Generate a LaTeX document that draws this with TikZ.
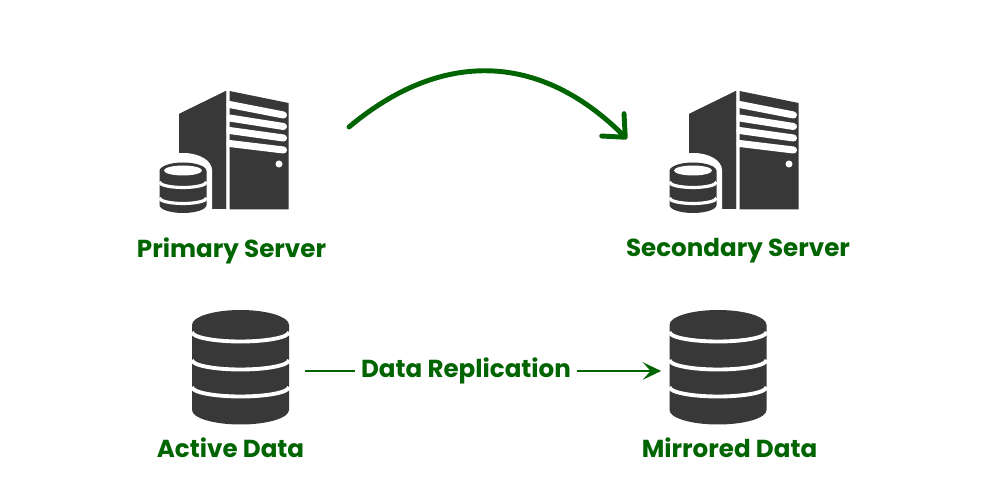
\documentclass[tikz,border=0pt]{standalone}
\usepackage{fontspec}
\setmainfont{Poppins}
\usepackage{tikz}
\usetikzlibrary{arrows.meta}
\definecolor{icongray}{HTML}{383838}
\definecolor{repgreen}{HTML}{006400}

\tikzset{
  lbl/.style={text=repgreen,font=\fontsize{14}{16}\selectfont\bfseries,inner sep=0pt},
  iconbox/.style={inner sep=0pt,minimum width=2.6cm,minimum height=2.4cm},
  dbbox/.style={inner sep=0pt,minimum width=1.94cm,minimum height=2.3cm},
  serverpic/.pic={
    \fill[icongray] (-46,36) -- (1,59) -- (1,-59) -- (-46,-59) -- cycle;
    \fill[icongray] (4.5,59) -- (63.5,47) -- (63.5,-59.5) -- (4.5,-59.5) -- cycle;
    \foreach \a/\b in {45.5/35,32/23.5,19.5/12,6.5/0}
      \draw[white,line width=4pt,line cap=round] (4.5,\a) -- (58.5,\b);
    \fill[icongray] (1,59) -- (1,-59) -- (-46,-59) -- (-46,36) -- cycle;
    \fill[white] (54,-14) circle (3.5);
    % small db in front of the tower
    \fill[white] (-70,-20) arc[start angle=180,end angle=0,x radius=28.5,y radius=17]
      -- (-13,-60) -- (-70,-60) -- cycle;
    \fill[icongray] (-65.5,-21) arc[start angle=180,end angle=0,x radius=23.5,y radius=8.5]
      -- (-18.5,-55) arc[start angle=0,end angle=-180,x radius=23.5,y radius=8] -- cycle;
    \fill[white] (-42,-20.5) ellipse[x radius=19,y radius=5];
    \foreach \a in {-32,-48}
      \draw[white,line width=1.8pt] (-65.5,\a) arc[start angle=180,end angle=360,x radius=23.5,y radius=5.5];
  },
  dbpic/.pic={
    \fill[icongray] (-48.5,46) arc[start angle=180,end angle=0,x radius=48.5,y radius=15]
      -- (48.5,-39) arc[start angle=0,end angle=-180,x radius=48.5,y radius=14.5] -- cycle;
    \foreach \a in {39,11,-16}
      \draw[white,line width=2.2pt] (-48.5,\a) arc[start angle=180,end angle=360,x radius=48.5,y radius=9.5];
  }
}

\begin{document}
\begin{tikzpicture}[x=0.02cm,y=0.02cm]
\useasboundingbox (0,0) rectangle (1000,500);

\node [iconbox] (primary) at(225,350){};
\node [iconbox] (secondary) at(735,350){};
\pic at (primary) {serverpic};
\pic at (secondary) {serverpic};

\node [lbl] (primarylbl) at(231.5,249.5){Primary Server};
\node [lbl] (secondarylbl) at(738,249.5){Secondary Server};

\node [dbbox] (active) at(240.5,129){};
\node [dbbox] (mirrored) at(718,129){};
\pic at (active) {dbpic};
\pic at (mirrored) {dbpic};

\node [lbl] (activelbl) at(230.5,52.5){Active Data};
\node [lbl] (mirroredlbl) at(729.5,52.5){Mirrored Data};

\node [lbl,inner xsep=3pt] (replication) at(466,129){Data Replication};

\coordinate (arcstart) at(349,373);
\coordinate (arcend) at(627,361);

\draw[repgreen,line width=2.8pt,line cap=round,-{Straight Barb[length=10pt,width=18pt,round]}]
  (arcstart) to[out=40,in=135,looseness=1.12] (arcend);

\draw[repgreen,line width=0.9pt,shorten <=0.32cm] (active) -- (replication);
\draw[repgreen,line width=0.9pt,shorten >=0.16cm,-{Stealth[length=10.5pt,width=10pt,inset=4.5pt]}] (replication) -- (mirrored);

\end{tikzpicture}
\end{document}
